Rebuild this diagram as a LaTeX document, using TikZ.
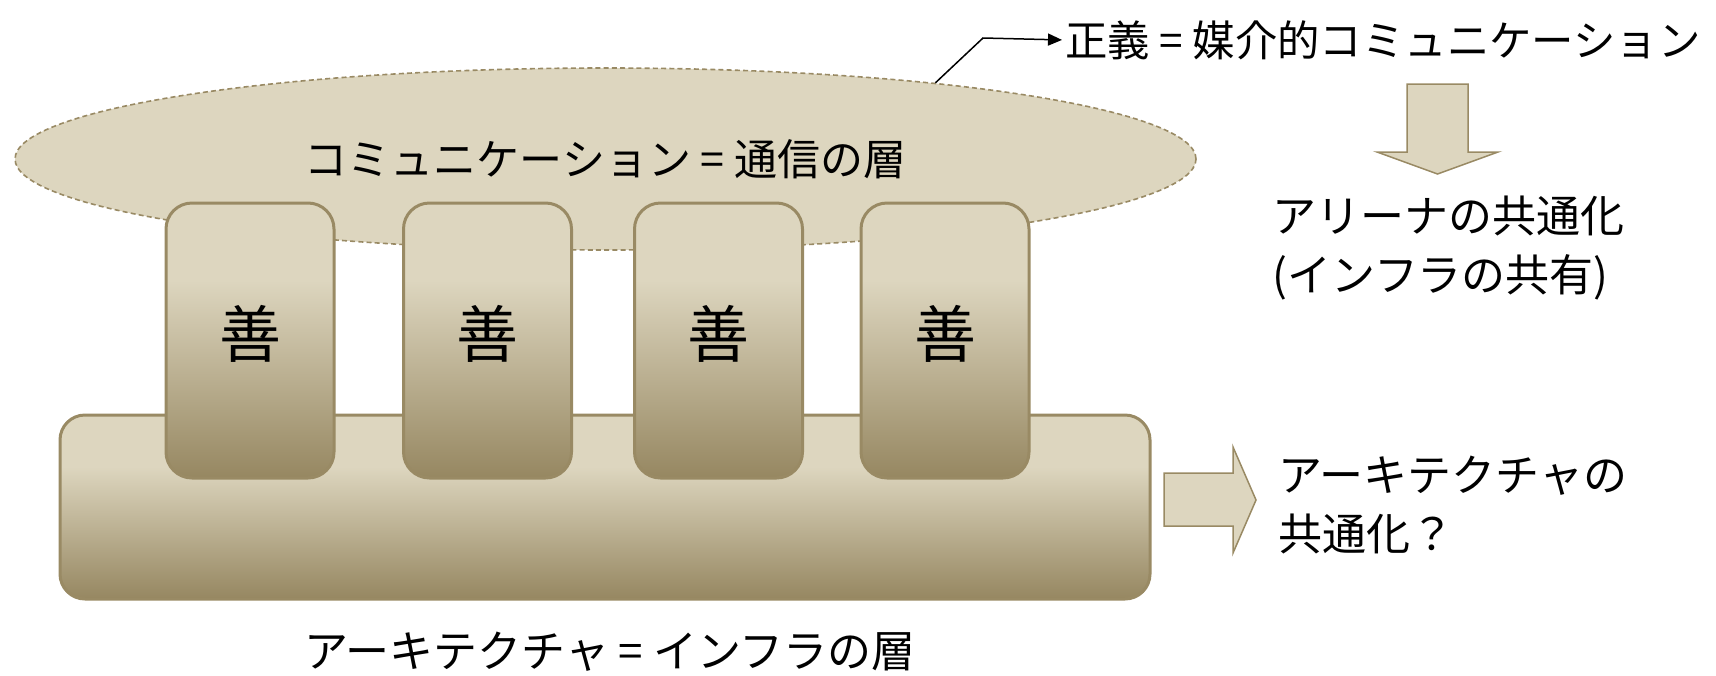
\documentclass[tikz,border=0pt]{standalone}
\usepackage{fontspec}
\setmainfont{Noto Sans CJK JP}
\usetikzlibrary{shapes.geometric,arrows.meta}
\definecolor{lt}{RGB}{221,214,191}
\definecolor{dk}{RGB}{150,135,97}
\definecolor{brd}{RGB}{153,138,100}
\pgfdeclareverticalshading{pillar}{100bp}{color(0bp)=(dk); color(25bp)=(dk); color(61bp)=(lt); color(100bp)=(lt)}
\begin{document}
\begin{tikzpicture}[x=0.5pt,y=-0.5pt,
  txt/.style={font=\fontsize{22pt}{29.5pt}\selectfont, inner sep=0pt},
  zen/.style={font=\fontsize{31pt}{36pt}\selectfont, inner sep=0pt},
  cloud/.style={ellipse, draw=brd, line width=0.8pt, dash pattern=on 2.5pt off 1.6pt, fill=lt,
    minimum width=590.5pt, minimum height=91pt, inner sep=0pt},
  slab/.style={draw=brd, line width=1.5pt, shading=pillar, rounded corners=12.5pt,
    minimum width=545pt, minimum height=92pt, inner sep=0pt},
  pillarbox/.style={draw=brd, line width=1.5pt, shading=pillar, rounded corners=13pt,
    minimum width=84pt, minimum height=137.5pt, inner sep=0pt},
  fatarrow/.style={draw=brd, line width=0.75pt, fill=lt},
  link/.style={draw=black, line width=0.75pt, -{Triangle[length=7pt,width=6pt]}, shorten >=1.5pt}
]
\useasboundingbox (0,0) rectangle (1716,675);
% communication layer
\node[cloud, txt, font=\fontsize{21.5pt}{28pt}\selectfont] (ell) at (605.5,159) {コミュニケーション = 通信の層};
% infrastructure slab
\node[slab] (base) at (605,507) {};
% pillars
\node[pillarbox] (c1) at (250,340.5) {};
\node[pillarbox] (c2) at (487.5,340.5) {};
\node[pillarbox] (c3) at (718.5,340.5) {};
\node[pillarbox] (c4) at (945,340.5) {};
\node[zen] (z1) at ([yshift=3.5pt]c1.center) {善};
\node[zen] (z2) at ([yshift=3.5pt]c2.center) {善};
\node[zen] (z3) at ([yshift=3.5pt]c3.center) {善};
\node[zen] (z4) at ([yshift=3.5pt]c4.center) {善};
% labels
\node[txt, anchor=west, font=\fontsize{21.2pt}{28pt}\selectfont] (just) at (1065,40) {正義 = 媒介的コミュニケーション};
\coordinate (bend) at (983,38);
\draw[link] (ell.13.2) -- (bend) -- (just.west);
\node[txt] (infra) at (610,652) {アーキテクチャ = インフラの層};
\node[txt, anchor=west, align=left] (arena) at (1272,248) {アリーナの共通化\\(インフラの共有)};
\node[txt, anchor=west, align=left] (archq) at (1278,505) {アーキテクチャの\\共通化？};
% block arrows
\draw[fatarrow] (1407,84) -- (1468,84) -- (1468,152) -- (1498,152) -- (1437.5,174) -- (1377,152) -- (1407,152) -- cycle;
\draw[fatarrow] (1164,473) -- (1233,473) -- (1233,447) -- (1256,500) -- (1233,553) -- (1233,526) -- (1164,526) -- cycle;
\end{tikzpicture}
\end{document}
